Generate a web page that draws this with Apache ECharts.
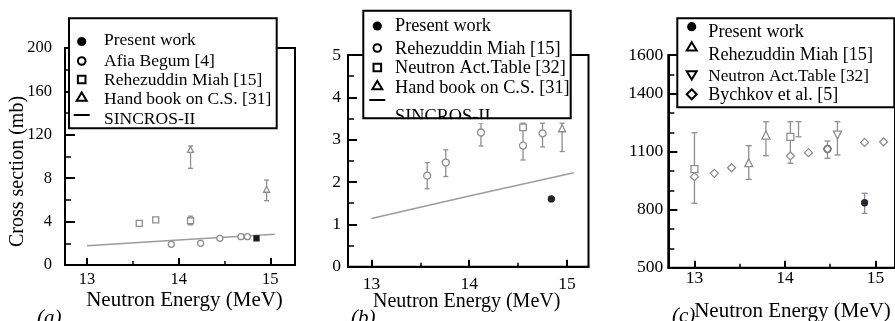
<!DOCTYPE html>
<html>
<head>
<meta charset="utf-8">
<script src="https://cdn.jsdelivr.net/npm/echarts@6/dist/echarts.min.js"></script>
<style>
  html, body { margin: 0; padding: 0; background: #fff; }
  #chart { width: 895px; height: 321px; }
</style>
</head>
<body>
<div id="chart"></div>
<script>
const FONT = 'Liberation Serif'

// shared energy ticks (MeV)
const eMajor = [13, 14, 15]
const eMinor = [13.5, 14.5]

// panel (a)
const aYMajor = [0, 4, 8, 12, 16, 20]
const aYLabels = ['0', '4', '8', '120', '160', '200']
const aYMinor = [2, 6, 10, 14, 18]
const aPresentE = [14.85]
const aPresentCS = [2.46]
const aBegumE = [13.92, 14.24, 14.45, 14.68, 14.75]
const aBegumCS = [1.91, 2.0, 2.46, 2.61, 2.61]
const aMiahE = [13.57, 13.75, 14.13]
const aMiahCS = [3.84, 4.15, 4.08]
const aHandE = [14.13, 14.96]
const aHandCS = [10.65, 6.98]
const aErrE = [14.13, 14.96, 14.13]
const aErrLo = [8.91, 5.93, 3.7]
const aErrHi = [10.97, 7.83, 4.5]
const aSincE = [13, 14, 15.05]
const aSincCS = [1.78, 2.3, 2.83]

// panel (b)
const bYMajor = [0, 1, 2, 3, 4, 5]
const bYMinor = [0.5, 1.5, 2.5, 3.5, 4.5]
const bPresentE = [14.84]
const bPresentCS = [1.6]
const bMiahE = [13.57, 13.76, 14.12, 14.55, 14.75]
const bMiahCS = [2.15, 2.46, 3.17, 2.86, 3.15]
const bActE = [14.55]
const bActCS = [3.29]
const bHandE = [14.95]
const bHandCS = [3.27]
const bErrE = [13.57, 13.76, 14.12, 14.55, 14.75, 14.95]
const bErrLo = [1.84, 2.13, 2.85, 2.52, 2.83, 2.72]
const bErrHi = [2.46, 2.76, 3.39, 3.39, 3.39, 3.39]
const bSincE = [13, 14, 15.07]
const bSincCS = [1.14, 1.67, 2.22]

// panel (c)
const cYMajor = [500, 800, 1100, 1400, 1600]
const cYMinor = [600, 700, 900, 1000, 1200, 1300, 1500]
const cPresentE = [14.88]
const cPresentCS = [836]
const cMiahE = [13.6, 13.79]
const cMiahCS = [1043, 1186]
const cActE = [14.58]
const cActCS = [1186]
const cBychkovE = [13.0, 13.22, 13.41, 14.06, 14.26, 14.47, 14.88, 15.09]
const cBychkovCS = [971, 988, 1017, 1078, 1095, 1114, 1148, 1151]
const cSquareE = [13.0, 14.06]
const cSquareCS = [1010, 1177]
const cCircleE = [14.47]
const cCircleCS = [1114]
const cErrE = [13.0, 13.6, 13.79, 14.06, 14.15, 14.47, 14.58, 14.88]
const cErrLo = [833, 957, 1079, 1040, 1177, 1066, 1083, 781]
const cErrHi = [1198, 1131, 1255, 1255, 1255, 1155, 1255, 885]

const GRAY = '#8e8e8e'
const zip = (xs, ys) => xs.map((x, i) => [x, ys[i]])

function axisPair(position, gridIndex, min, max, majors, labels, minors, fontSize, margin, majorLen, minorLen) {
  const main = {
    type: 'value', gridIndex, min, max, position,
    axisLine: { show: true, onZero: false, lineStyle: { color: '#000', width: 2 } },
    axisTick: { show: true, inside: true, length: majorLen, customValues: majors, lineStyle: { color: '#000', width: 2 } },
    axisLabel: {
      show: true, customValues: majors, margin, color: '#000', fontSize, fontFamily: FONT,
      formatter: (v) => labels ? labels[majors.indexOf(v)] : String(v),
    },
    splitLine: { show: false },
  }
  const minor = {
    type: 'value', gridIndex, min, max, position,
    axisLine: { show: false, onZero: false },
    axisTick: { show: true, inside: true, length: minorLen, customValues: minors, lineStyle: { color: '#000', width: 1.5 } },
    axisLabel: { show: false },
    splitLine: { show: false },
  }
  return [main, minor]
}

function scatter(panel, xs, ys, symbol, size, fill, stroke, rotate) {
  return {
    type: 'scatter', xAxisIndex: panel * 2, yAxisIndex: panel * 2,
    data: zip(xs, ys), symbol, symbolSize: size, symbolRotate: rotate || 0,
    itemStyle: { color: fill, borderColor: stroke, borderWidth: 1.3, opacity: 1 },
    z: 4, silent: true,
  }
}

function errorBars(panel, xs, lo, hi, cap) {
  return {
    type: 'custom', xAxisIndex: panel * 2, yAxisIndex: panel * 2,
    data: xs.map((x, i) => [x, lo[i], hi[i]]),
    encode: { x: 0, y: [1, 2] },
    silent: true, z: 3,
    renderItem: (params, api) => {
      const x = api.value(0)
      const p1 = api.coord([x, api.value(1)])
      const p2 = api.coord([x, api.value(2)])
      const st = { stroke: GRAY, lineWidth: 1.3 }
      return {
        type: 'group',
        children: [
          { type: 'line', shape: { x1: p1[0], y1: p1[1], x2: p2[0], y2: p2[1] }, style: st },
          { type: 'line', shape: { x1: p1[0] - cap, y1: p1[1], x2: p1[0] + cap, y2: p1[1] }, style: st },
          { type: 'line', shape: { x1: p2[0] - cap, y1: p2[1], x2: p2[0] + cap, y2: p2[1] }, style: st },
        ],
      }
    },
  }
}

function sincros(panel, xs, ys) {
  return {
    type: 'line', xAxisIndex: panel * 2, yAxisIndex: panel * 2,
    data: zip(xs, ys), symbol: 'none', silent: true, z: 2,
    lineStyle: { color: '#9c9c9c', width: 1.5 },
  }
}

function text(str, x, y, size, opts = {}) {
  return {
    type: 'text', x, y, z: opts.z || 101, rotation: opts.rotation || 0,
    style: {
      text: str, fill: '#000',
      font: `${opts.italic ? 'italic ' : ''}${size}px ${FONT}`,
      textAlign: opts.align || 'left', align: opts.align || 'left',
      textVerticalAlign: opts.valign || 'middle', verticalAlign: opts.valign || 'middle',
    },
  }
}

function legendSymbol(kind, cx, cy) {
  const open = { fill: '#fff', stroke: '#000', lineWidth: 2 }
  if (kind === 'dot') return { type: 'circle', z: 101, shape: { cx, cy, r: 4.6 }, style: { fill: '#000' } }
  if (kind === 'circle') return { type: 'circle', z: 101, shape: { cx, cy, r: 3.8 }, style: open }
  if (kind === 'square') return { type: 'rect', z: 101, shape: { x: cx - 3.8, y: cy - 3.8, width: 7.6, height: 7.6 }, style: open }
  if (kind === 'up') return { type: 'polygon', z: 101, shape: { points: [[cx - 5, cy + 3.8], [cx + 5, cy + 3.8], [cx, cy - 4.5]] }, style: open }
  if (kind === 'down') return { type: 'polygon', z: 101, shape: { points: [[cx - 5, cy - 3.8], [cx + 5, cy - 3.8], [cx, cy + 4.5]] }, style: open }
  if (kind === 'diamond') return { type: 'polygon', z: 101, shape: { points: [[cx, cy - 5], [cx + 5, cy], [cx, cy + 5], [cx - 5, cy]] }, style: open }
  return { type: 'line', z: 101, shape: { x1: cx - 8, y1: cy, x2: cx + 8, y2: cy }, style: { stroke: '#000', lineWidth: 2 } }
}

// box: [x, y, w, h]; rows: [symbol, symY, label, textY, fontSize]
function legend(box, symX, textX, rows, extra = []) {
  const [x, y, w, h] = box
  const els = [{ type: 'rect', z: 100, shape: { x, y, width: w, height: h }, style: { fill: '#fff' } }]
  rows.forEach(([sym, sy, label, ty, size]) => {
    if (sym) els.push(legendSymbol(sym, symX, sy))
    if (label) els.push(text(label, textX, ty, size))
  })
  els.push(...extra)
  els.push({ type: 'rect', z: 103, shape: { x, y, width: w, height: h }, style: { fill: 'none', stroke: '#000', lineWidth: 2 } })
  return els
}

const grids = [
  { left: 65, top: 48, width: 230, height: 217 },
  { left: 348, top: 55, width: 240.5, height: 211.7 },
  { left: 668.3, top: 55, width: 232, height: 212.7 },
].map((g) => ({ ...g, show: true, borderColor: '#000', borderWidth: 2, backgroundColor: 'transparent' }))

const xAxes = [
  ...axisPair('bottom', 0, 12.76, 15.27, eMajor, null, eMinor, 16.5, 6, 7, 4),
  ...axisPair('bottom', 1, 12.76, 15.22, eMajor, null, eMinor, 17.5, 9, 7, 4),
  ...axisPair('bottom', 2, 12.711, 15.216, eMajor, null, eMinor, 17.5, 2, 7, 4),
]
const yAxes = [
  ...axisPair('left', 0, 0, 20, aYMajor, aYLabels, aYMinor, 16.5, 13, 10, 6),
  ...axisPair('left', 1, 0, 5, bYMajor, null, bYMinor, 17.5, 7, 9, 6),
  ...axisPair('left', 2, 500, 1600, cYMajor, null, cYMinor, 17.5, 5, 9, 6),
]

const series = [
  // (a)
  sincros(0, aSincE, aSincCS),
  errorBars(0, aErrE, aErrLo, aErrHi, 2.5),
  scatter(0, aBegumE, aBegumCS, 'circle', 6, '#fff', GRAY),
  scatter(0, aMiahE, aMiahCS, 'rect', 6, '#fff', GRAY),
  scatter(0, aHandE, aHandCS, 'triangle', 6, '#fff', GRAY),
  scatter(0, aPresentE, aPresentCS, 'rect', 5, '#1a1a1a', '#1a1a1a'),
  // (b)
  sincros(1, bSincE, bSincCS),
  errorBars(1, bErrE, bErrLo, bErrHi, 2.5),
  scatter(1, bMiahE, bMiahCS, 'circle', 7, '#fff', GRAY),
  scatter(1, bActE, bActCS, 'rect', 6.5, '#fff', GRAY),
  scatter(1, bHandE, bHandCS, 'triangle', 7, '#fff', GRAY),
  scatter(1, bPresentE, bPresentCS, 'circle', 6, '#222', '#222'),
  // (c)
  errorBars(2, cErrE, cErrLo, cErrHi, 3),
  scatter(2, cBychkovE, cBychkovCS, 'diamond', 8, '#fff', GRAY),
  scatter(2, cSquareE, cSquareCS, 'rect', 7, '#fff', GRAY),
  scatter(2, cCircleE, cCircleCS, 'circle', 7, 'rgba(255,255,255,0)', '#777'),
  scatter(2, cMiahE, cMiahCS, 'triangle', 8, '#fff', GRAY),
  scatter(2, cActE, cActCS, 'triangle', 8, '#fff', GRAY, 180),
  scatter(2, cPresentE, cPresentCS, 'circle', 6, '#2b2838', '#2b2838'),
]

const graphic = [
  // axis titles and panel tags
  text('Cross section (mb)', 17.5, 171.5, 20, { align: 'center', rotation: Math.PI / 2 }),
  text('Neutron Energy (MeV)', 184.5, 300, 21, { align: 'center' }),
  text('Neutron Energy (MeV)', 466.7, 301.5, 20, { align: 'center' }),
  text('Neutron Energy (MeV)', 792.5, 311.5, 21, { align: 'center' }),
  text('(a)', 37, 318, 21, { italic: true }),
  text('(b)', 351, 318.5, 21, { italic: true }),
  text('(c)', 672, 316.5, 21, { italic: true }),
  // legends
  ...legend([69, 18.3, 207.7, 110], 81.7, 104, [
    ['dot', 41.5, 'Present work', 40.5, 17.5],
    ['circle', 61, 'Afia Begum [4]', 61, 17.5],
    ['square', 79.5, 'Rehezuddin Miah [15]', 80, 17.5],
    ['up', 97, 'Hand book on C.S. [31]', 99, 17.5],
    ['line', 115, 'SINCROS-II', 119.5, 17.5],
  ]),
  ...legend([363.3, 10.7, 207.4, 107.6], 377.3, 395, [
    ['dot', 26, 'Present work', 26, 18.3],
    ['circle', 48, 'Rehezuddin Miah [15]', 49.3, 18.3],
    ['square', 67.5, 'Neutron Act.Table [32]', 68.3, 18.3],
    ['up', 85.5, 'Hand book on C.S. [31]', 88.3, 18.3],
    ['line', 100, 'SINCROS-II', 117.5, 18.3],
  ], [
    { type: 'rect', z: 102, shape: { x: 390, y: 119.3, width: 100, height: 4 }, style: { fill: '#fff' } },
  ]),
  ...legend([677.3, 18.3, 217, 89], 691.7, 708.3, [
    ['dot', 26.7, 'Present work', 32.3, 18.2],
    ['up', 46.7, 'Rehezuddin Miah [15]', 55, 18.2],
    ['down', 75, 'Neutron Act.Table [32]', 76, 17.2],
    ['diamond', 94.3, 'Bychkov et al. [5]', 95, 18],
  ]),
]

const chart = echarts.init(document.getElementById('chart'), null, { renderer: 'canvas' })
chart.setOption({
  animation: false,
  backgroundColor: '#fff',
  textStyle: { fontFamily: FONT },
  grid: grids,
  xAxis: xAxes,
  yAxis: yAxes,
  series,
  graphic,
})
</script>
</body>
</html>
